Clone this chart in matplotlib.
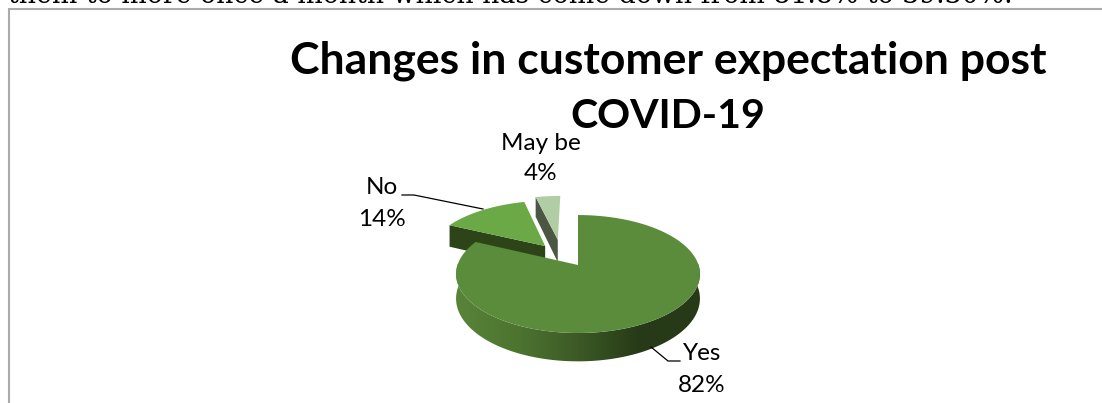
import matplotlib
matplotlib.use('Agg')
import matplotlib.pyplot as plt
from matplotlib.patches import Polygon
import numpy as np

# share of respondents per answer, clockwise from 12 o'clock
answers = ['Yes', 'No', 'May be']
shares = [82, 14, 4]

top_colors = {'Yes': '#5b8c3c', 'No': '#6ba846', 'May be': '#b0cda4'}
edge_wall_colors = {'No': '#2c4418', 'May be': '#4b5743'}

# how far each slice is pulled out, in pie radii
explode = {'Yes': (0.0, 0.0), 'No': (-0.287, 0.3465), 'May be': (-0.18, 0.47)}

# pie placement in pixels, with a little perspective
CX, CY = 578, 265
RX, RY = 120.5, 57.6
PERSP = 0.153
DEPTH = 24

# rim shading runs left to right across the front
shade_x = [456, 520, 577, 640, 700]
shade_r = [88, 76, 60, 39, 40]
shade_g = [132, 115, 90, 58, 58]
shade_b = [56, 48, 38, 23, 24]


def project(x, y, z=0.0):
    s = 1.0 / (1.0 + PERSP * y)
    return CX + RX * x * s, CY - RY * y * s + z * DEPTH * s


def rim_point(deg, offset, z=0.0):
    t = np.radians(deg)
    return project(np.sin(t) + offset[0], np.cos(t) + offset[1], z)


def draw_rim(ax, start, end, offset, zorder):
    # outer wall, only the part facing the viewer, filled with the shading ramp
    angles = np.linspace(max(start, 88), min(end, 272), 200)
    outline = [rim_point(a, offset) for a in angles]
    outline += [rim_point(a, offset, 1.0) for a in angles[::-1]]
    clip = Polygon(outline, facecolor='none', edgecolor='none', transform=ax.transData)
    ax.add_patch(clip)

    xs = np.arange(shade_x[0], shade_x[-1] + 1)
    ramp = np.stack([np.interp(xs, shade_x, shade_r),
                     np.interp(xs, shade_x, shade_g),
                     np.interp(xs, shade_x, shade_b)], axis=-1)[np.newaxis, :, :] / 255
    im = ax.imshow(ramp, extent=(shade_x[0], shade_x[-1], 380, 250), aspect='auto',
                   interpolation='bilinear', zorder=zorder)
    im.set_clip_path(clip)


def draw_slice(ax, name, start, end, zorder):
    offset = explode[name]
    apex_top = project(offset[0], offset[1])
    apex_low = project(offset[0], offset[1], 1.0)

    if name == 'Yes':
        draw_rim(ax, start, end, offset, zorder)
    else:
        # cut face along the leading edge
        quad = [rim_point(start, offset), apex_top, apex_low, rim_point(start, offset, 1.0)]
        ax.add_patch(Polygon(quad, facecolor=edge_wall_colors[name], edgecolor='none', zorder=zorder))

    pts = [apex_top] + [rim_point(a, offset) for a in np.linspace(start, end, 120)]
    ax.add_patch(Polygon(pts, facecolor=top_colors[name], edgecolor='none', zorder=zorder + 0.5))


fig = plt.figure(figsize=(11.02, 4.03), dpi=100)
ax = fig.add_axes([0, 0, 1, 1])
ax.axis('off')

# chart frame, runs off the page on the right and bottom
ax.plot([8.7, 8.7, 1102], [403, 9, 9], color='#ababab', lw=1.5, solid_joinstyle='miter')

# line of body text above the chart, cut by the page edge
ax.text(8, 3, 'them to more once a month which has come down from 81.8% to 39.30%.',
        family='DejaVu Serif', fontsize=19.3, color='black', va='baseline', ha='left')

# slice angles from the shares
total = sum(shares)
edges = np.cumsum([0] + shares) / total * 360
layer = {'May be': 2, 'No': 3, 'Yes': 4}
for i, name in enumerate(answers):
    draw_slice(ax, name, edges[i], edges[i + 1], layer[name])

# leader lines
ax.plot([483, 414, 402], [209, 195, 195], color='black', lw=0.9, zorder=6)
ax.plot([651, 668, 680], [347, 361, 361], color='black', lw=0.9, zorder=6)

# data labels
label_pos = {'Yes': (702, 354, 385), 'No': (382, 188, 220), 'May be': (541, 143, 173)}
for name, value in zip(answers, shares):
    x, y1, y2 = label_pos[name]
    ax.text(x, y1, name, family='Lato', fontsize=17.5, ha='center', va='center', zorder=7)
    ax.text(x, y2, f'{value}%', family='Lato', fontsize=17.5, ha='center', va='center', zorder=7)

# title sits over the top label
ax.text(668, 61, 'Changes in customer expectation post', family='Lato', weight='bold',
        fontsize=32, ha='center', va='center', zorder=8)
ax.text(668, 116, 'COVID-19', family='Lato', weight='bold',
        fontsize=29.5, ha='center', va='center', zorder=8)

# imshow resets the limits, so they are set last
ax.set_xlim(0, 1102)
ax.set_ylim(403, 0)

fig.savefig('out.png', dpi=100)
plt.close(fig)
